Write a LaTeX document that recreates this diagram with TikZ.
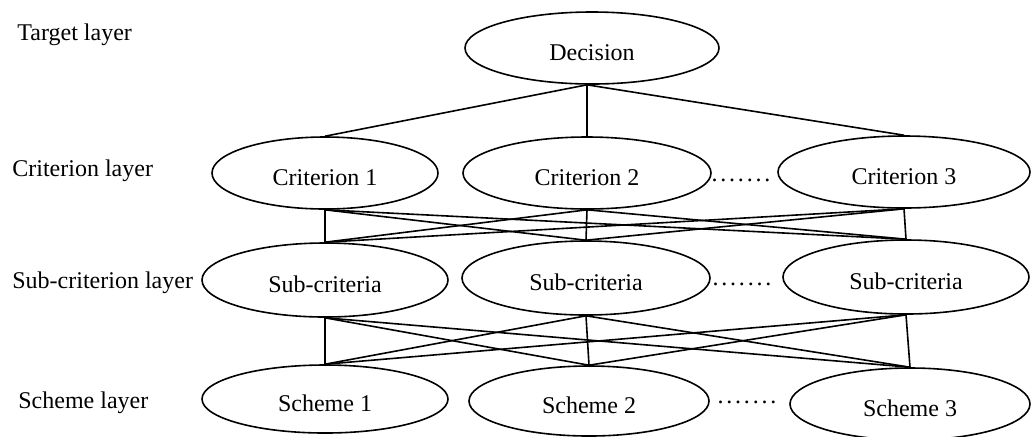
\documentclass[tikz,border=0pt]{standalone}
\usepackage{fontspec}
\setmainfont{Liberation Serif}
\usetikzlibrary{shapes.geometric}

\newcommand{\gapdots}{.\kern1.4pt.\kern1.4pt.\kern1.4pt.\kern1.4pt.\kern1.4pt.\kern1.4pt.}

\tikzset{
  layerbox/.style={ellipse, draw, line width=0.8pt, inner sep=0pt,
                   text height=12pt, text depth=0pt,
                   minimum width=123pt, minimum height=36pt},
  layertag/.style={anchor=base west, inner sep=0pt},
  gaptag/.style={anchor=base, inner sep=0pt},
  link/.style={line width=0.8pt},
}

\begin{document}
\begin{tikzpicture}[x={(0.5pt,0pt)}, y={(0pt,-0.5pt)}, font=\fontsize{12}{14}\selectfont]
  \useasboundingbox (0,0) rectangle (1032,436);
  % layer names
  \node[layertag] (tgttag) at (17,40) {Target layer};
  \node[layertag] (crtag)  at (12,176) {Criterion layer};
  \node[layertag] (subtag) at (12,288) {Sub-criterion layer};
  \node[layertag] (schtag) at (18,408) {Scheme layer};
  % target layer
  \node[layerbox, minimum width=127pt] (dec) at (592,48) {Decision};
  % criterion layer
  \node[layerbox, minimum width=113pt] (cr1) at (325,173) {Criterion 1};
  \node[layerbox, minimum width=124pt] (cr2) at (587,173) {Criterion 2};
  \node[layerbox, minimum width=126pt] (cr3) at (904,172) {Criterion 3};
  \node[gaptag] (crdots) at (741,181) {\gapdots};
  % sub-criterion layer
  \node[layerbox, minimum height=37pt] (sub1) at (325,280) {Sub-criteria};
  \node[layerbox, minimum height=37pt, minimum width=124pt] (sub2) at (586,278) {Sub-criteria};
  \node[layerbox, minimum height=37pt] (sub3) at (906,277) {Sub-criteria};
  \node[gaptag] (subdots) at (742,285) {\gapdots};
  % scheme layer
  \node[layerbox, minimum height=34pt] (sch1) at (325,399) {Scheme 1};
  \node[layerbox, minimum height=35pt, minimum width=120pt] (sch2) at (589,401) {Scheme 2};
  \node[layerbox, minimum width=120pt] (sch3) at (910,404) {Scheme 3};
  \node[gaptag] (schdots) at (747,403) {\gapdots};
  % links
  \coordinate (decfoot) at (dec.south -| cr2.north);
  \foreach \c in {cr1,cr2,cr3}
    \draw[link] (decfoot) -- (\c.north);
  \foreach \a in {cr1,cr2,cr3}
    \foreach \b in {sub1,sub2,sub3}
      \draw[link] (\a.south) -- (\b.north);
  \foreach \a in {sub1,sub2,sub3}
    \foreach \b in {sch1,sch2,sch3}
      \draw[link] (\a.south) -- (\b.north);
\end{tikzpicture}
\end{document}
